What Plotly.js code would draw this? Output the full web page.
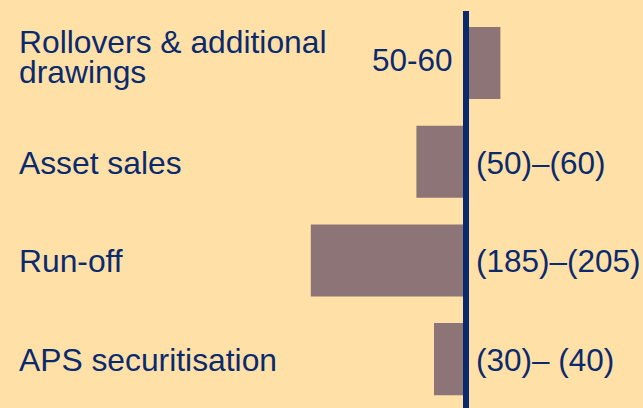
<!DOCTYPE html>
<html>
<head>
<meta charset="utf-8">
<script src="https://cdn.plot.ly/plotly-3.0.1.min.js"></script>
<style>
  html, body { margin: 0; padding: 0; background: #FFE1A8; }
  #chart { width: 643px; height: 408px; }
</style>
</head>
<body>
<div id="chart"></div>
<script>
var categories = ['Rollovers & additional<br>drawings', 'Asset sales', 'Run-off', 'APS securitisation'];
var values = [43, -62, -194, -40];
var rangeLabels = ['50-60', '(50)\u2013(60)', '(185)\u2013(205)', '(30)\u2013 (40)'];

var navy = '#0B2A6E';
var font = 'Liberation Sans, Arial, sans-serif';

var trace = {
  type: 'bar',
  orientation: 'h',
  x: values,
  y: categories,
  marker: { color: '#8D7476', line: { width: 0 } },
  hoverinfo: 'skip'
};

var annotations = [];
for (var i = 0; i < categories.length; i++) {
  // left-hand category label, one annotation per line to keep tight line spacing
  var lines = categories[i].split('<br>');
  for (var j = 0; j < lines.length; j++) {
    var shift = lines.length > 1 ? (j === 0 ? 21 : -9) : -1;
    annotations.push({
      xref: 'paper', yref: 'y',
      x: 0, y: categories[i],
      xanchor: 'left', yanchor: 'middle',
      xshift: 17, yshift: shift,
      text: lines[j],
      showarrow: false,
      font: { family: font, size: 31.8, color: navy }
    });
  }
  // range label next to the axis line
  var pos = values[i] > 0;
  annotations.push({
    xref: 'x', yref: 'y',
    x: 0, y: categories[i],
    xanchor: pos ? 'right' : 'left', yanchor: 'middle',
    xshift: pos ? -11 : 8, yshift: pos ? 3 : -1,
    text: rangeLabels[i],
    showarrow: false,
    font: { family: font, size: 31.5, color: navy }
  });
}

var layout = {
  width: 643,
  height: 408,
  margin: { l: 0, r: 0, t: 11, b: 0 },
  paper_bgcolor: '#FFE1A8',
  plot_bgcolor: '#FFE1A8',
  showlegend: false,
  bargap: 0.27,
  xaxis: {
    range: [-582.5, 221.25],
    showgrid: false, zeroline: false, showticklabels: false, ticks: ''
  },
  yaxis: {
    type: 'category',
    range: [3.495, -0.527],
    showgrid: false, zeroline: false, showticklabels: false, ticks: ''
  },
  shapes: [{
    type: 'line', layer: 'above',
    xref: 'x', yref: 'paper',
    x0: 0, x1: 0, y0: 0, y1: 1,
    line: { color: navy, width: 6 }
  }],
  annotations: annotations
};

Plotly.newPlot('chart', [trace], layout, { displayModeBar: false, staticPlot: true });
</script>
</body>
</html>
